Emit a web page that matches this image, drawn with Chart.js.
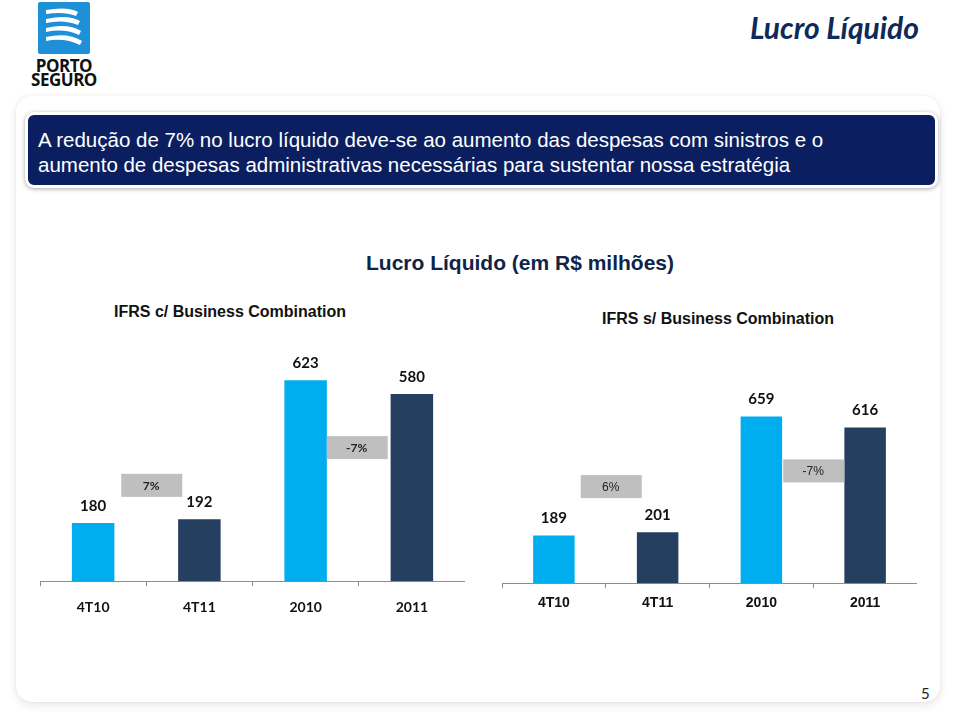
<!DOCTYPE html>
<html>
<head>
<meta charset="utf-8">
<script src="https://cdn.jsdelivr.net/npm/chart.js@4.4.1/dist/chart.umd.min.js"></script>
<style>
  html, body { margin: 0; padding: 0; background: #fff; }
  body { width: 959px; height: 720px; position: relative; overflow: hidden; font-family: 'Liberation Sans', Arial, sans-serif; }
  .panel { position: absolute; left: 16px; top: 96px; width: 924px; height: 606px; background: #fff; border-radius: 16px;
    box-shadow: 0 3px 10px rgba(0,0,0,0.10), 0 0 3px rgba(0,0,0,0.05); }
  .logo { position: absolute; left: 38px; top: 2px; width: 52px; height: 52px; background: #1e90d8; border-radius: 2px; overflow: hidden; }
  .logo-text { position: absolute; left: 28px; top: 59px; width: 72px; text-align: center; font: bold 17px/14px 'Open Sans', 'Liberation Sans', sans-serif; color: #111; letter-spacing: -0.5px; }
  .slide-title { position: absolute; right: 40px; top: 9px; font: italic bold 30px 'Lato', sans-serif; color: #0d2a5a; }
  .banner { position: absolute; left: 25px; top: 112px; width: 913px; height: 76px; background: #0b1f60; border: 3px solid #fff; border-radius: 9px;
    box-shadow: 0 1px 4px rgba(0,0,0,0.35); color: #fff; font: 20.5px/25px 'Liberation Sans', Arial, sans-serif; padding: 0 0 0 10px; box-sizing: border-box; }
  .banner div { padding-top: 12px; }
  .chart-title { position: absolute; left: 0; width: 1040px; top: 251px; text-align: center; font: bold 21px 'Liberation Sans', Arial, sans-serif; color: #0f2447; }
  .sub { position: absolute; font: bold 16px 'Liberation Sans', Arial, sans-serif; color: #111; text-align: center; width: 300px; }
  .page { position: absolute; left: 921px; top: 684px; font: 15px 'Lato', sans-serif; color: #222; }
  canvas { position: absolute; }
</style>
</head>
<body>
<div class="panel"></div>
<div class="logo">
  <svg width="52" height="52" viewBox="0 0 52 52">
    <path d="M8 8 Q30 4 40 10 L38 14 Q26 9 8 12 Z" fill="#fff"/>
    <path d="M8 17 Q30 12 42 19 L40 23 Q26 17 8 21 Z" fill="#fff"/>
    <path d="M8 26 Q30 21 43 29 L41 33 Q26 26 8 30 Z" fill="#fff"/>
    <path d="M8 35 Q30 30 44 39 L42 43 Q26 35 8 39 Z" fill="#fff"/>
  </svg>
</div>
<div class="logo-text">PORTO<br>SEGURO</div>
<div class="slide-title">Lucro Líquido</div>
<div class="banner"><div>A redução de 7% no lucro líquido deve-se ao aumento das despesas com sinistros e o<br>aumento de despesas administrativas necessárias para sustentar nossa estratégia</div></div>
<div class="chart-title">Lucro Líquido (em R$ milhões)</div>
<div class="sub" style="left:80px; top:303px;">IFRS c/ Business Combination</div>
<div class="sub" style="left:568px; top:310px;">IFRS s/ Business Combination</div>
<canvas id="leftChart" style="left:40px; top:345px;" width="425" height="284"></canvas>
<canvas id="rightChart" style="left:502px; top:391px;" width="415" height="228"></canvas>
<div class="page">5</div>

<script>
const categories = ['4T10', '4T11', '2010', '2011'];
const withBC = [180, 192, 623, 580];
const withoutBC = [189, 201, 659, 616];
const growthWithBC = ['7%', '-7%'];
const growthWithoutBC = ['6%', '-7%'];

const LIGHT = '#00aeef';
const DARK = '#243f60';

// value labels over bars and grey growth boxes between pairs
const barLabels = {
  id: 'barLabels',
  afterDatasetsDraw(chart, args, opts) {
    const { ctx } = chart;
    const meta = chart.getDatasetMeta(0);
    ctx.save();
    ctx.font = opts.valueFont;
    ctx.fillStyle = '#111';
    ctx.textAlign = 'center';
    ctx.textBaseline = 'middle';
    meta.data.forEach((bar, i) => {
      ctx.fillText(chart.data.datasets[0].data[i], bar.x, bar.y - 17);
    });
    const y = chart.scales.y;
    opts.growth.forEach((txt, k) => {
      const a = meta.data[k * 2], b = meta.data[k * 2 + 1];
      const cx = (a.x + b.x) / 2 + opts.dx[k];
      const cy = y.getPixelForValue(opts.at[k]);
      ctx.fillStyle = '#bfbfbf';
      ctx.fillRect(cx - 30, cy - 11.5, 61, 23);
      ctx.fillStyle = '#222';
      ctx.font = opts.growthFont;
      ctx.fillText(txt, cx, cy + 1);
    });
    ctx.restore();
  }
};

function makeChart(id, values, growth, yMax, at, dx, tickFont, valueFont, growthFont, pad) {
  return new Chart(document.getElementById(id).getContext('2d'), {
    type: 'bar',
    data: {
      labels: categories,
      datasets: [{
        data: values,
        backgroundColor: [LIGHT, DARK, LIGHT, DARK],
        borderWidth: 0,
        categoryPercentage: 1,
        barPercentage: 0.4,
      }],
    },
    options: {
      responsive: false,
      animation: false,
      layout: { padding: 0 },
      plugins: {
        legend: { display: false },
        tooltip: { enabled: false },
        barLabels: { growth, at, dx, valueFont, growthFont },
      },
      scales: {
        x: {
          offset: true,
          grid: { offset: true, drawOnChartArea: false, drawTicks: true, tickLength: 5, color: '#8c8c8c' },
          border: { color: '#8c8c8c', width: 1 },
          ticks: { color: '#111', font: tickFont, padding: pad },
        },
        y: { display: false, min: 0, max: yMax },
      },
    },
    plugins: [barLabels],
  });
}

makeChart('leftChart', withBC, growthWithBC, 732, [297, 414], [5, -2],
  { family: 'Lato', size: 14, weight: 'bold' }, 'bold 15px Lato', 'bold 12px Lato', 13);
makeChart('rightChart', withoutBC, growthWithoutBC, 760, [382, 444], [5, 0],
  { family: 'Liberation Sans', size: 14, weight: 'bold' }, 'bold 15px Lato', '12px "Liberation Sans"', 7);
</script>
</body>
</html>
